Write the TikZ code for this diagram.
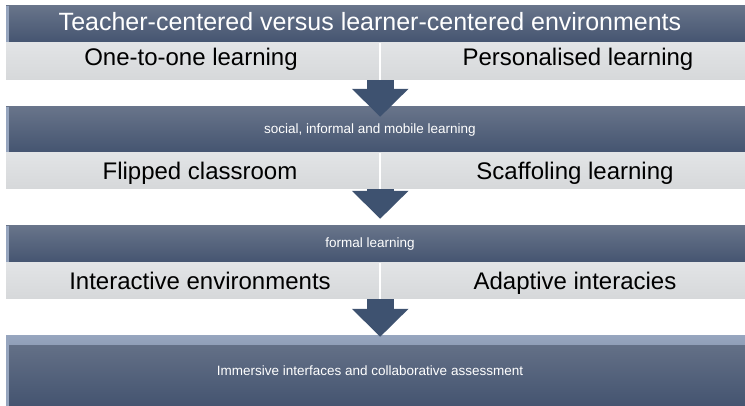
\documentclass[tikz,border=0pt]{standalone}
\usepackage{fontspec}
\setmainfont{Liberation Sans}
\usetikzlibrary{calc,positioning,arrows.meta}

\definecolor{bandtop}{RGB}{104,116,138}
\definecolor{bandbot}{RGB}{68,84,112}
\definecolor{bandedge}{RGB}{150,165,190}
\definecolor{cellhi}{RGB}{226,228,230}
\definecolor{cellmid}{RGB}{200,202,205}
\definecolor{celllo}{RGB}{214,216,218}
\definecolor{arrowblue}{RGB}{62,82,112}

\tikzset{
  nudge/.style={execute at begin node={\hspace*{#1}}},
  band/.style={rectangle, inner sep=0pt, minimum width=752pt, text=white,
    top color=bandtop, bottom color=bandbot, nudge=-24pt,
    font=\fontsize{13.5}{16}\selectfont,
    path picture={\fill[bandedge] (path picture bounding box.north west) rectangle ([xshift=2.5pt]path picture bounding box.south west);}},
  bevel/.style={path picture={
    \fill[top color=bandedge, bottom color=bandtop] (path picture bounding box.north west) rectangle ([yshift=-9pt]path picture bounding box.north east);
    \fill[bandedge] (path picture bounding box.north west) rectangle ([xshift=3pt]path picture bounding box.south west);}},
  cell/.style={rectangle, inner sep=0pt, top color=cellhi, middle color=cellmid, bottom color=celllo,
    font=\fontsize{24}{28}\selectfont, text height=17.2pt, text depth=0pt},
  flow/.style={arrowblue, line width=27pt, -{Triangle[width=55pt,length=28pt]}},
  divider/.style={white, line width=1.5pt}
}

\begin{document}
\begin{tikzpicture}[x=1pt,y=-1pt]
  \path[use as bounding box, clip] (0,0) rectangle (745,406);

  % bands
  \node[band, minimum height=37pt, font=\fontsize{25}{29}\selectfont, text height=17.9pt, text depth=6pt] at (382,24.5) (title) {Teacher-centered versus learner-centered environments};
  \node[band, minimum height=46pt] at (382,130) (social) {social, informal and mobile learning};
  \node[band, minimum height=37pt] at (382,244.5) (formal) {formal learning};
  \node[band, bevel, minimum height=70pt] at (382,371) (immersive) {Immersive interfaces and collaborative assessment};

  % cells
  \node[cell, minimum width=374pt, minimum height=37pt, text depth=10pt, nudge=-4pt] at (193,61.5) (one2one) {One-to-one learning};
  \node[cell, minimum width=378pt, minimum height=37pt, text depth=10pt, nudge=18pt] at (569,61.5) (personal) {Personalised learning};
  \node[cell, minimum width=374pt, minimum height=36pt, nudge=14pt] at (193,171) (flipped) {Flipped classroom};
  \node[cell, minimum width=378pt, minimum height=36pt, nudge=12pt] at (569,171) (scaffold) {Scaffoling learning};
  \node[cell, minimum width=374pt, minimum height=36pt, nudge=14pt] at (193,281) (interact) {Interactive environments};
  \node[cell, minimum width=378pt, minimum height=36pt, nudge=12pt] at (569,281) (adaptive) {Adaptive interacies};

  \draw[divider] (one2one.north east) -- (one2one.south east);
  \draw[divider] (flipped.north east) -- (flipped.south east);
  \draw[divider] (interact.north east) -- (interact.south east);

  % arrows
  \coordinate (tip1) at ($(one2one.south east |- social.north)+(0,10)$);
  \coordinate (tip2) at ($(flipped.south east |- formal.north)+(0,-7)$);
  \coordinate (tip3) at ($(interact.south east |- immersive.north)+(0,1)$);
  \draw[flow] (one2one.south east) -- (tip1);
  \draw[flow] (flipped.south east) -- (tip2);
  \draw[flow] (interact.south east) -- (tip3);
\end{tikzpicture}
\end{document}
